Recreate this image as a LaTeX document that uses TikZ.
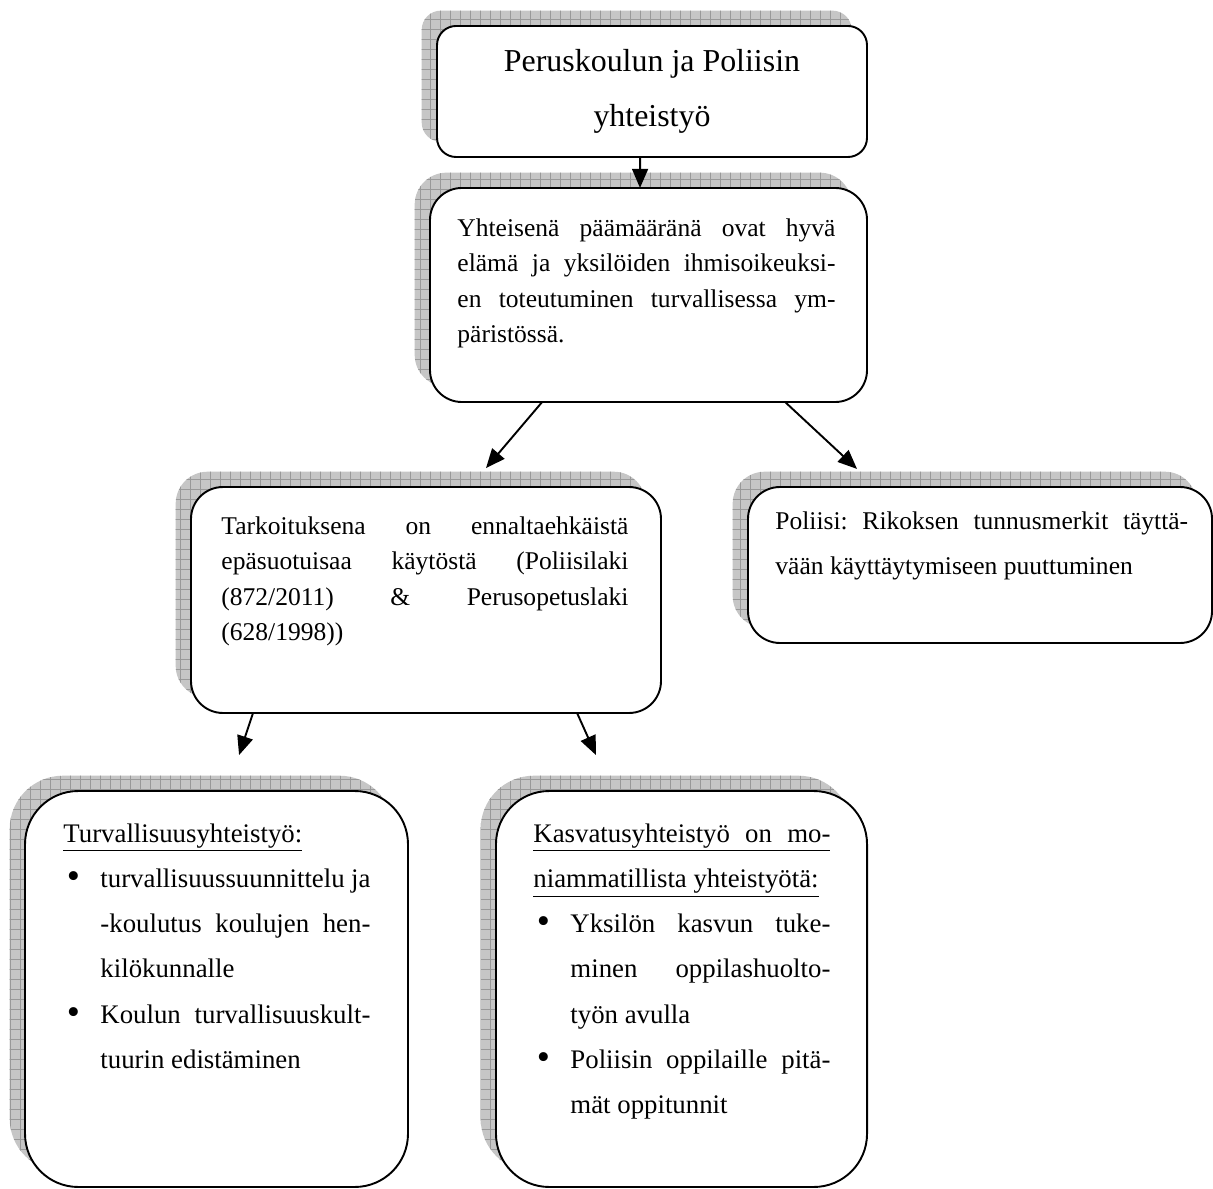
\documentclass[tikz,border=0pt]{standalone}
\usepackage{fontspec}
\setmainfont{Liberation Serif}
\usepackage{tikz}
\usetikzlibrary{shadows,patterns.meta,arrows.meta}

\hyphenpenalty=10000
\exhyphenpenalty=10000
\frenchspacing

% bullet line with hanging text
\newcommand{\bul}{\par\noindent\hangindent=17.4pt\hangafter=1\hspace*{1.6pt}\makebox[15.8pt][l]{\raisebox{-0.6pt}{\scalebox{1.4}{\textbullet}}}}

\tikzset{
    box/.style={draw, line width=0.9pt, fill=white, inner sep=0pt, outer sep=0pt,
        rounded corners=#1,
        general shadow={shadow xshift=-7.2pt, shadow yshift=7.2pt, fill=gray!45},
        general shadow={shadow xshift=-7.2pt, shadow yshift=7.2pt,
            pattern={Hatch[angle=0, distance=4.7pt, line width=0.45pt]}, pattern color=gray!80}},
    box/.default=15pt,
    txt/.style={anchor=north west, inner sep=0pt, align=justify,
        font=\fontsize{12}{16.7}\selectfont},
    arr/.style={-{Triangle[length=9pt, width=7.5pt]}, line width=0.9pt},
}

\begin{document}
\begin{tikzpicture}[x=0.47pt, y=-0.47pt]

    \useasboundingbox (0, 0) rectangle (1213, 1189);

    % Boxes
    \node[box=9pt, minimum width=202.1pt, minimum height=61.6pt, align=center,
        font=\fontsize{15}{25.9}\selectfont] (b1) at (652, 91.5)
        {Peruskoulun ja Poliisin\\yhteistyö};
    \node[box, minimum width=205.4pt, minimum height=100.6pt] (b2) at (648.5, 295) {};
    \node[box, minimum width=220.9pt, minimum height=106.2pt] (b3) at (426, 600) {};
    \node[box, minimum width=218.1pt, minimum height=73.3pt] (b4) at (980, 565) {};
    \node[box=25pt, minimum width=180pt, minimum height=186.1pt] (b5) at (216.5, 989) {};
    \node[box=25pt, minimum width=174.4pt, minimum height=186.1pt] (b6) at (681.5, 989) {};

    % Texts in the boxes
    \node[txt, text width=177.7pt] (t2) at (457, 218)
        {Yhteisenä päämääränä ovat hyvä\linebreak
         elämä ja yksilöiden ihmisoikeuksi-\linebreak
         en toteutuminen turvallisessa ym-\linebreak
         päristössä.};
    \node[txt, text width=191.3pt] (t3) at (221, 516)
        {Tarkoituksena on ennaltaehkäistä\linebreak
         epäsuotuisaa käytöstä (Poliisilaki\linebreak
         (872/2011) \& Perusopetuslaki\linebreak
         (628/1998))};
    \node[txt, text width=194pt, font=\fontsize{12}{21.4}\selectfont] (t4) at (775, 511)
        {Poliisi: Rikoksen tunnusmerkit täyttä-\linebreak
         vään käyttäytymiseen puuttuminen};
    \node[txt, text width=144.3pt, font=\fontsize{12.6}{21.3}\selectfont] (t5) at (63, 823)
        {\underline{Turvallisuusyhteistyö:}
         \bul turvallisuussuunnittelu ja\linebreak
              -koulutus koulujen hen-\linebreak
              kilökunnalle
         \bul Koulun turvallisuuskult-\linebreak
              tuurin edistäminen\par};
    \node[txt, text width=139.6pt, font=\fontsize{12.6}{21.3}\selectfont] (t6) at (533, 823)
        {\underline{\makebox[139.6pt][s]{Kasvatusyhteistyö on mo-}}\par\noindent
         \underline{niammatillista yhteistyötä:}
         \bul Yksilön kasvun tuke-\linebreak
              minen oppilashuolto-\linebreak
              työn avulla
         \bul Poliisin oppilaille pitä-\linebreak
              mät oppitunnit\par};

    % Arrows
    \draw[arr] ([xshift=-5.6pt]b1.south) -- ([xshift=-4pt]b2.north);
    \draw[arr] ([xshift=-50pt]b2.south) -- ([shift={(28.2pt, 8.9pt)}]b3.north);
    \draw[arr] ([xshift=64.2pt]b2.south) -- ([shift={(-57.8pt, 8.5pt)}]b4.north);
    \draw[arr] ([xshift=-81.3pt]b3.south) -- ([shift={(10.6pt, 16.9pt)}]b5.north);
    \draw[arr] ([xshift=71pt]b3.south) -- ([shift={(-40.2pt, 16.9pt)}]b6.north);

\end{tikzpicture}
\end{document}
